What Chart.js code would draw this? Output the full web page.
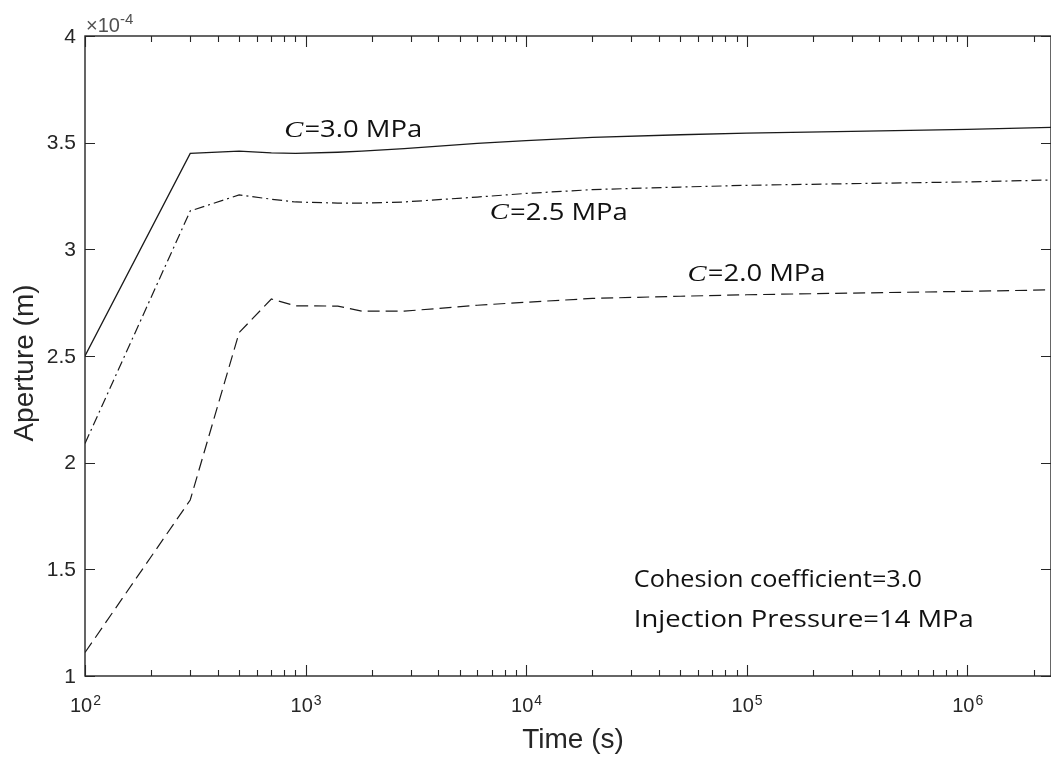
<!DOCTYPE html>
<html>
<head>
<meta charset="utf-8">
<script src="https://cdn.jsdelivr.net/npm/chart.js@4/dist/chart.umd.min.js"></script>
<style>
  html, body { margin: 0; padding: 0; background: #fff; }
  #wrap { width: 1051px; height: 757px; }
</style>
</head>
<body>
<div id="wrap"><canvas id="aperture-chart" width="1051" height="757"></canvas></div>
<script>
// time samples (s) shared by all three curves
var times = [100, 300, 500, 700, 900, 1400, 1800, 2800, 6000, 1e4, 2e4, 5e4, 1e5, 3e5, 1e6, 2.4e6];

// aperture in units of 1e-4 m
var apC30 = [2.50, 3.45, 3.46, 3.452, 3.45, 3.455, 3.46, 3.472, 3.497, 3.51, 3.525, 3.537, 3.545, 3.553, 3.562, 3.572];
var apC25 = [2.09, 3.18, 3.255, 3.235, 3.222, 3.217, 3.217, 3.222, 3.245, 3.262, 3.28, 3.292, 3.30, 3.308, 3.316, 3.325];
var apC20 = [1.11, 1.825, 2.61, 2.767, 2.735, 2.734, 2.71, 2.71, 2.738, 2.752, 2.77, 2.78, 2.787, 2.795, 2.803, 2.81];

var seriesNames = ['=3.0 MPa', '=2.5 MPa', '=2.0 MPa'];
var xDecades = [1e2, 1e3, 1e4, 1e5, 1e6];
var xExponents = ['2', '3', '4', '5', '6'];
var yTicks = [1, 1.5, 2, 2.5, 3, 3.5, 4];
var yTickLabels = ['1', '1.5', '2', '2.5', '3', '3.5', '4'];

// where the curve labels sit, in data units (left edge, vertical middle)
var curveLabelX = [800, 6850, 54000];
var curveLabelY = [3.555, 3.17, 2.88];

var noteLines = ['Cohesion coefficient=3.0', 'Injection Pressure=14 MPa'];
var noteX = 30800;
var noteY = [1.45, 1.262];

var ink = '#262626';
var sans = '"Liberation Sans", Arial, sans-serif';

function pts(vals) {
  return times.map(function (t, i) { return { x: t, y: vals[i] }; });
}

// draw text squeezed/stretched horizontally to a given width
function fitText(ctx, parts, x, y, width) {
  var total = 0;
  parts.forEach(function (p) { ctx.font = p.font; total += ctx.measureText(p.text).width + (p.gap || 0); });
  var sx = width / total;
  ctx.save();
  ctx.translate(x, y);
  ctx.scale(sx, 1);
  var cx = 0;
  parts.forEach(function (p) {
    ctx.font = p.font;
    ctx.fillText(p.text, cx, 0);
    cx += ctx.measureText(p.text).width + (p.gap || 0);
  });
  ctx.restore();
}

var decorations = {
  id: 'decorations',
  afterDraw: function (chart) {
    var ctx = chart.ctx;
    var a = chart.chartArea;
    var x = chart.scales.x;
    var y = chart.scales.y;
    ctx.save();

    // box
    ctx.strokeStyle = ink;
    ctx.lineWidth = 1.4;
    ctx.strokeRect(a.left, a.top, a.right - a.left, a.bottom - a.top);

    // x ticks, inside, bottom and top
    ctx.lineWidth = 1.1;
    ctx.beginPath();
    for (var d = 2; d <= 6; d++) {
      for (var k = 1; k <= 9; k++) {
        var v = k * Math.pow(10, d);
        if (v < x.min || v > x.max) continue;
        var px = Math.round(x.getPixelForValue(v)) + 0.5;
        var len = k === 1 ? 11 : 6;
        ctx.moveTo(px, a.bottom); ctx.lineTo(px, a.bottom - len);
        ctx.moveTo(px, a.top); ctx.lineTo(px, a.top + len);
      }
    }
    // y ticks, inside, left and right
    yTicks.forEach(function (v) {
      var py = Math.round(y.getPixelForValue(v)) + 0.5;
      ctx.moveTo(a.left, py); ctx.lineTo(a.left + 10, py);
      ctx.moveTo(a.right, py); ctx.lineTo(a.right - 10, py);
    });
    ctx.stroke();

    // y tick labels
    ctx.fillStyle = ink;
    ctx.font = '21px ' + sans;
    ctx.textAlign = 'right';
    ctx.textBaseline = 'middle';
    yTicks.forEach(function (v, i) {
      ctx.fillText(yTickLabels[i], a.left - 9, y.getPixelForValue(v) + 1);
    });

    // x tick labels 10^n
    ctx.textBaseline = 'alphabetic';
    ctx.textAlign = 'left';
    xDecades.forEach(function (v, i) {
      var px = x.getPixelForValue(v);
      ctx.font = '20px ' + sans;
      var w1 = ctx.measureText('10').width;
      ctx.font = '14px ' + sans;
      var w2 = ctx.measureText(xExponents[i]).width;
      var left = px - (w1 + w2) / 2;
      ctx.font = '20px ' + sans;
      ctx.fillText('10', left, a.bottom + 36);
      ctx.font = '14px ' + sans;
      ctx.fillText(xExponents[i], left + w1 + 1, a.bottom + 29);
    });

    // exponent note above y axis
    ctx.fillStyle = '#505050';
    ctx.font = '20px ' + sans;
    ctx.fillText('\u00d710', a.left + 1, a.top - 4);
    var wx = ctx.measureText('\u00d710').width;
    ctx.font = '15px ' + sans;
    ctx.fillText('-4', a.left + 1 + wx, a.top - 12);

    // axis titles
    ctx.fillStyle = ink;
    ctx.font = '28px ' + sans;
    ctx.textAlign = 'center';
    ctx.fillText('Time (s)', (a.left + a.right) / 2 + 5, 748);
    ctx.save();
    ctx.translate(33, (a.top + a.bottom) / 2 + 7);
    ctx.rotate(-Math.PI / 2);
    ctx.fillText('Aperture (m)', 0, 0);
    ctx.restore();

    // curve labels: italic C then the rest
    ctx.fillStyle = '#111';
    ctx.textAlign = 'left';
    ctx.textBaseline = 'middle';
    seriesNames.forEach(function (name, i) {
      fitText(ctx, [
        { text: 'C', font: 'italic 24px "Liberation Serif", serif', gap: 1 },
        { text: name, font: '23px "Open Sans", sans-serif' }
      ], x.getPixelForValue(curveLabelX[i]), y.getPixelForValue(curveLabelY[i]), 138);
    });

    // parameter note
    var noteWidths = [288, 340];
    noteLines.forEach(function (line, i) {
      fitText(ctx, [{ text: line, font: '23px "Open Sans", sans-serif' }],
        x.getPixelForValue(noteX), y.getPixelForValue(noteY[i]), noteWidths[i]);
    });

    ctx.restore();
  }
};

var ctx = document.getElementById('aperture-chart').getContext('2d');
var chart = new Chart(ctx, {
  type: 'line',
  data: {
    datasets: [{
      label: 'C' + seriesNames[0],
      data: pts(apC30),
      borderColor: '#1a1a1a',
      borderWidth: 1.3,
      pointRadius: 0,
      tension: 0
    }, {
      label: 'C' + seriesNames[1],
      data: pts(apC25),
      borderColor: '#1a1a1a',
      borderWidth: 1.2,
      borderDash: [10, 4, 2, 4],
      pointRadius: 0,
      tension: 0
    }, {
      label: 'C' + seriesNames[2],
      data: pts(apC20),
      borderColor: '#1a1a1a',
      borderWidth: 1.2,
      borderDash: [12, 6],
      pointRadius: 0,
      tension: 0
    }]
  },
  options: {
    responsive: false,
    animation: false,
    events: [],
    layout: { padding: { top: 36, right: 0, left: 0, bottom: 0 } },
    plugins: {
      legend: { display: false },
      tooltip: { enabled: false }
    },
    scales: {
      x: {
        type: 'logarithmic',
        min: 100,
        max: 2.4e6,
        grid: { display: false },
        border: { display: false },
        ticks: { display: false },
        afterBuildTicks: function (scale) {
          scale.ticks = xDecades.map(function (v) { return { value: v }; });
        },
        afterFit: function (scale) { scale.height = 81; }
      },
      y: {
        type: 'linear',
        min: 1,
        max: 4,
        grid: { display: false },
        border: { display: false },
        ticks: { display: false, stepSize: 0.5 },
        afterFit: function (scale) { scale.width = 85; }
      }
    }
  },
  plugins: [decorations]
});
</script>
</body>
</html>
